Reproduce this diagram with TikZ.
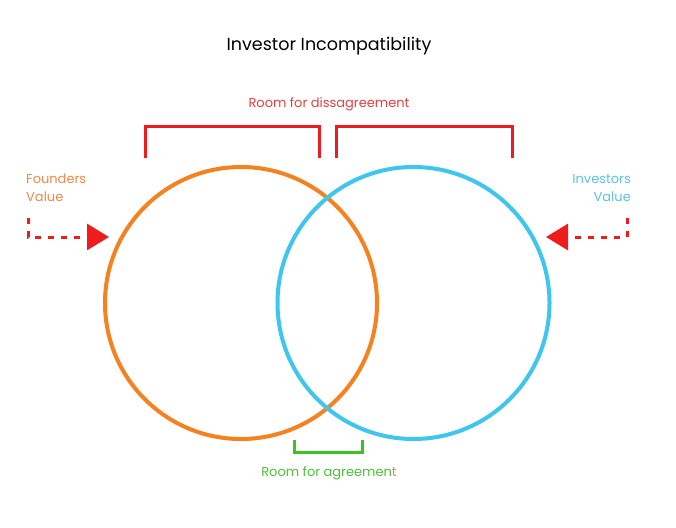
\documentclass[tikz,border=0pt]{standalone}
\usepackage{fontspec}
\setmainfont{Poppins}
\usetikzlibrary{arrows.meta}
\definecolor{corange}{HTML}{F5821F}
\definecolor{cblue}{HTML}{3EC6EE}
\definecolor{cred}{HTML}{EE1C1C}
\definecolor{cgreen}{HTML}{3CC323}
\definecolor{tred}{HTML}{E8403C}
\definecolor{torange}{HTML}{EE8A45}
\definecolor{tblue}{HTML}{5CC3EA}
\definecolor{tgreen}{HTML}{4CC239}
\begin{document}
\begin{tikzpicture}[x=1pt,y=-1pt,
  ring/.style={circle, draw, line width=4pt, minimum size=272pt, inner sep=0pt},
  brack/.style={line width=3pt},
  flow/.style={cred, line width=3pt, dash pattern=on 6pt off 7pt, -{Triangle[length=22pt,width=26pt]}},
  lbl/.style={font=\fontsize{13}{15}\selectfont, inner sep=0pt}]
\useasboundingbox[fill=white] (0,0) rectangle (676,527);
\node[font=\fontsize{17.5}{20}\selectfont, inner sep=0pt] (title) at (329,46) {Investor Incompatibility};
\node[lbl, text=tred] (dis) at (329,104) {Room for dissagreement};
\node[ring, draw=corange] (oc) at (241,303) {};
\node[ring, draw=cblue] (bc) at (413.5,303) {};
% disagreement brackets
\coordinate (l1) at (145,158); \coordinate (l2) at (319,158);
\coordinate (r1) at (336,158); \coordinate (r2) at (512,158);
\draw[brack, cred] (l1) -- ++(0,-32) -| (l2);
\draw[brack, cred] (r1) -- ++(0,-32) -| (r2);
% agreement bracket
\coordinate (g1) at (294,440); \coordinate (g2) at (362,440);
\draw[brack, cgreen] (g1) -- ++(0,12) -| (g2);
\node[lbl, text=tgreen] (agr) at (329,473) {Room for agreemen\textcolor{torange}{t}};
% side labels
\node[lbl, text=torange, anchor=north west, align=left, font=\fontsize{13}{18}\selectfont] (fv) at (26,174) {Founders\\Value};
\node[lbl, text=tblue, anchor=north east, align=right, font=\fontsize{13}{18}\selectfont] (iv) at (631,174) {Investors\\Value};
% arrows
\coordinate (fs) at (28,218); \coordinate (ft) at (109,237);
\coordinate (is) at (627,218); \coordinate (it) at (546,237);
\draw[flow] (fs) |- (ft);
\draw[flow] (is) |- (it);
\end{tikzpicture}
\end{document}
